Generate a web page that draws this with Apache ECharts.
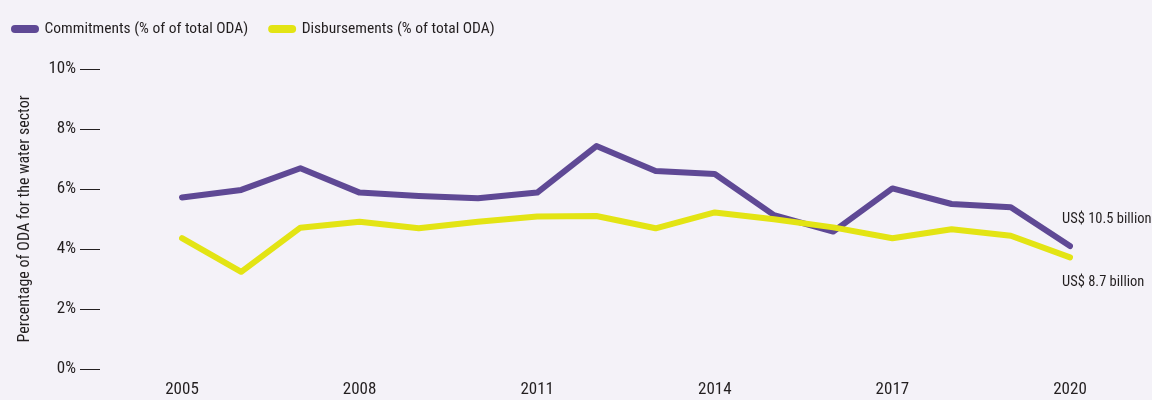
<!DOCTYPE html>
<html>
<head>
<meta charset="utf-8">
<script src="https://cdn.jsdelivr.net/npm/echarts@6/dist/echarts.min.js"></script>
<style>
  html, body { margin: 0; padding: 0; background: #f4f2f8; }
  #main { width: 1152px; height: 400px; }
</style>
</head>
<body>
<div id="main"></div>
<script>
var years = ['2005', '2006', '2007', '2008', '2009', '2010', '2011', '2012',
             '2013', '2014', '2015', '2016', '2017', '2018', '2019', '2020'];
// % of total ODA going to the water sector
var commitments = [5.72, 5.97, 6.69, 5.88, 5.77, 5.69, 5.88, 7.43,
                   6.6, 6.5, 5.13, 4.58, 6.02, 5.5, 5.39, 4.1];
var disbursements = [4.36, 3.24, 4.71, 4.91, 4.69, 4.91, 5.08, 5.1,
                     4.69, 5.22, 4.99, 4.72, 4.36, 4.66, 4.44, 3.72];
var yTicks = [0, 2, 4, 6, 8, 10];

var font = '"Roboto Condensed", sans-serif';
var textColor = '#231f20';
var purple = '#5f4995';
var yellow = '#e3e414';
var pill = 'path://M4,0 H24 A4,4 0 0 1 24,8 H4 A4,4 0 0 1 4,0 Z';

var myChart = echarts.init(document.getElementById('main'));
var option = {
    backgroundColor: '#f4f2f8',
    textStyle: { fontFamily: font, color: textColor },
    legend: {
        left: 6,
        top: 16,
        itemWidth: 29,
        itemHeight: 8,
        itemGap: 20,
        textStyle: { fontFamily: font, fontSize: 15.5, color: textColor },
        data: [
            { name: 'Commitments (% of of total ODA)', icon: pill },
            { name: 'Disbursements (% of total ODA)', icon: pill }
        ]
    },
    grid: { left: 182, right: 82, top: 69, bottom: 31 },
    xAxis: {
        type: 'category',
        boundaryGap: false,
        data: years,
        axisLine: { show: false },
        axisTick: { show: false },
        axisLabel: {
            interval: 2,
            margin: 12,
            fontFamily: font,
            fontSize: 17,
            color: textColor
        }
    },
    yAxis: {
        type: 'value',
        min: 0,
        max: 10,
        interval: 2,
        offset: 82,
        name: 'Percentage of ODA for the water sector',
        nameLocation: 'middle',
        nameGap: 67,
        nameTextStyle: { fontFamily: font, fontSize: 16, color: textColor },
        axisLine: { show: false },
        axisTick: { show: true, length: 20, lineStyle: { color: textColor, width: 1 } },
        splitLine: { show: false },
        axisLabel: {
            margin: 24,
            fontFamily: font,
            fontSize: 17,
            color: textColor,
            formatter: function(v) { return yTicks.indexOf(v) >= 0 ? v + '%' : ''; }
        }
    },
    series: [{
        name: 'Commitments (% of of total ODA)',
        type: 'line',
        data: commitments,
        symbol: 'none',
        color: purple,
        lineStyle: { width: 6, color: purple, cap: 'round', join: 'round' },
        endLabel: {
            show: true,
            formatter: 'US$ 10.5 billion',
            offset: [-16, -27],
            fontFamily: font,
            fontSize: 14.5,
            color: textColor
        },
        z: 2
    }, {
        name: 'Disbursements (% of total ODA)',
        type: 'line',
        data: disbursements,
        symbol: 'none',
        color: yellow,
        lineStyle: { width: 6, color: yellow, cap: 'round', join: 'round' },
        endLabel: {
            show: true,
            formatter: 'US$ 8.7 billion',
            offset: [-16, 25],
            fontFamily: font,
            fontSize: 14.5,
            color: textColor
        },
        z: 3
    }]
};
myChart.setOption(option);
</script>
</body>
</html>
